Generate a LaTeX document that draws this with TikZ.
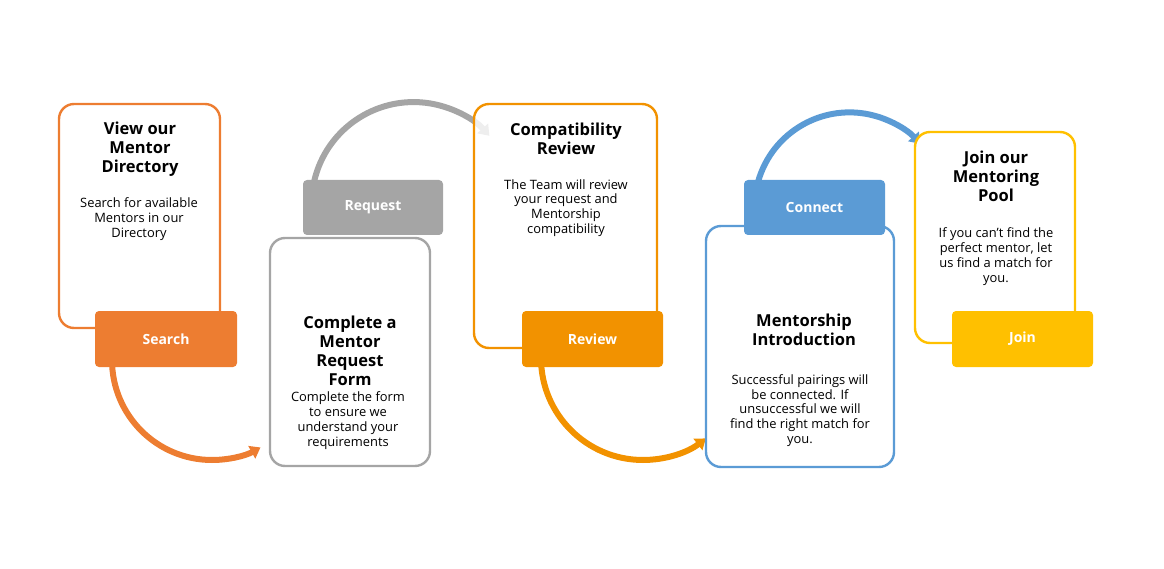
\documentclass[tikz,border=0pt]{standalone}
\usepackage{fontspec}
\setmainfont{Open Sans}
\usetikzlibrary{arrows.meta}
\definecolor{cOrA}{HTML}{ED7D31}
\definecolor{cGray}{HTML}{A5A5A5}
\definecolor{cOrB}{HTML}{F29200}
\definecolor{cBlue}{HTML}{5B9BD5}
\definecolor{cYel}{HTML}{FFC000}
\tikzset{
  outbox/.style={draw=#1, line width=2.4pt, rounded corners=15pt, fill=white, inner sep=0pt},
  tagbox/.style={fill=#1, rounded corners=4pt, inner sep=0pt, text=white,
    font=\fontsize{14}{16}\selectfont\bfseries},
  ttl/.style={align=center, inner sep=0pt, font=\fontsize{16.5}{19}\selectfont\bfseries},
  bdy/.style={align=center, inner sep=0pt, font=\fontsize{12.9}{14.8}\selectfont},
  flow/.style={draw=#1, line width=6pt, -{Triangle[length=10pt,width=14pt]}},
}
\begin{document}
\begin{tikzpicture}[x=1pt,y=-1pt]
\useasboundingbox (0,0) rectangle (1164,569);
% connectors (drawn under the boxes)
\coordinate (a1) at (112,360);
\coordinate (a2) at (314,182);
\coordinate (a3) at (541,358);
\coordinate (a4) at (758,182);
\draw[flow=cOrA] (a1) arc[start angle=180, end angle=61, radius=100];
\draw[flow=cGray] (a2) arc[start angle=192.5, end angle=318, radius=102];
\draw[flow=cOrB] (a3) arc[start angle=180, end angle=52, radius=102];
\draw[flow=cBlue] (a4) arc[start angle=195.5, end angle=318, radius=95];
% box 1
\node[outbox=cOrA, minimum width=161pt, minimum height=224pt] (b1) at (139.5,216) {};
\node[tagbox=cOrA, minimum width=142pt, minimum height=56pt] (t1) at (166,339) {Search};
\node[ttl] (h1) at (140,149) {View our\\Mentor\\Directory};
\node[bdy] (d1) at (139,219) {Search for available\\Mentors in our\\Directory};
% box 2
\node[outbox=cGray, minimum width=160pt, minimum height=228pt] (b2) at (350,352) {};
\node[tagbox=cGray, minimum width=140pt, minimum height=55pt] (t2) at (373,207.5) {Request};
\node[ttl] (h2) at (350,350.5) {Complete a\\Mentor\\Request\\Form};
\node[bdy] (d2) at (348,420.5) {Complete the form\\to ensure we\\understand your\\requirements};
% box 3
\node[outbox=cOrB, minimum width=183pt, minimum height=244pt, fill opacity=0.82] (b3) at (565.5,226) {};
\node[tagbox=cOrB, minimum width=141pt, minimum height=56pt] (t3) at (592.5,339) {Review};
\node[ttl] (h3) at (566,138.5) {Compatibility\\Review};
\node[bdy] (d3) at (566,208) {The Team will review\\your request and\\Mentorship\\compatibility};
% box 4
\node[outbox=cBlue, minimum width=188pt, minimum height=241pt] (b4) at (800,346.5) {};
\node[tagbox=cBlue, minimum width=141pt, minimum height=55pt] (t4) at (814.5,207.5) {Connect};
\node[ttl] (h4) at (804,329.5) {Mentorship\\Introduction};
\node[bdy] (d4) at (800,410.5) {Successful pairings will\\be connected. If\\unsuccessful we will\\find the right match for\\you.};
% box 5
\node[outbox=cYel, minimum width=160pt, minimum height=211pt] (b5) at (995,237.5) {};
\node[tagbox=cYel, minimum width=141pt, minimum height=56pt] (t5) at (1022.5,339) {Join};
\node[ttl] (h5) at (996,176) {Join our\\Mentoring\\Pool};
\node[bdy] (d5) at (996,256.5) {If you can't find the\\perfect mentor, let\\us find a match for\\you.};
\end{tikzpicture}
\end{document}
